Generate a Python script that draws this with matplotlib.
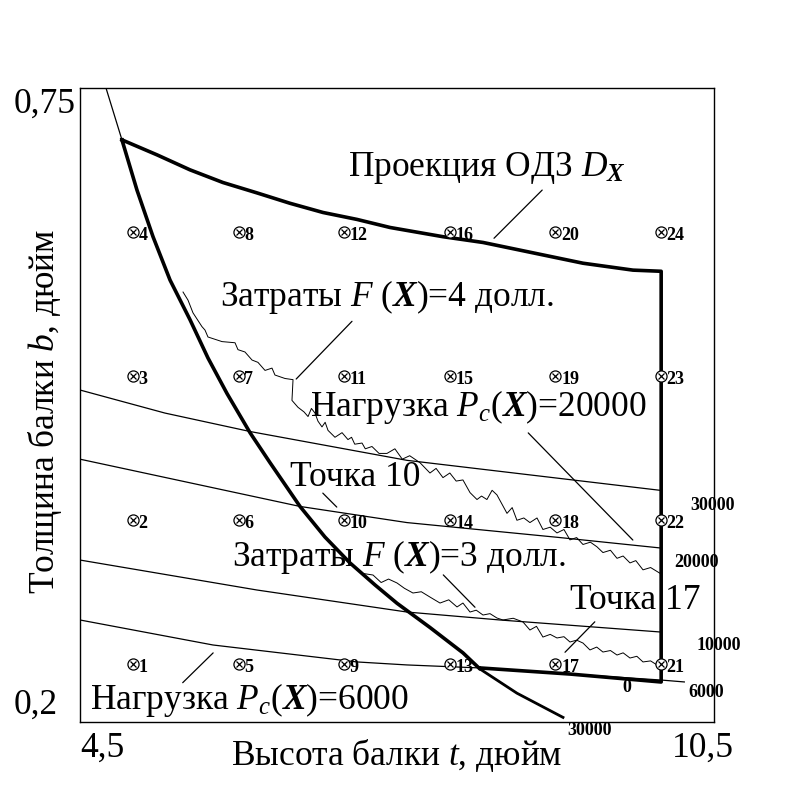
import matplotlib
matplotlib.use("Agg")
import matplotlib.pyplot as plt
import numpy as np

plt.rcParams['font.family'] = ['Liberation Serif', 'DejaVu Serif']
plt.rcParams['mathtext.fontset'] = 'custom'
plt.rcParams['mathtext.rm'] = 'Liberation Serif'
plt.rcParams['mathtext.it'] = 'Liberation Serif:italic'
plt.rcParams['mathtext.bf'] = 'Liberation Serif:bold'
plt.rcParams['mathtext.bfit'] = 'Liberation Serif:bold:italic'

# ---- data ----
# grid of test points (t, b)
grid_t = [5, 6, 7, 8, 9, 10]
grid_b = [0.25, 0.375, 0.5, 0.625]

# constraint curve (30000) forming left boundary
c30_t = [4.746, 4.897, 5.039, 5.191, 5.352, 5.541, 5.711, 5.891, 6.109, 6.298, 6.582, 6.818, 7.055,
         7.292, 7.500, 7.812, 8.124, 8.285, 8.635, 9.071]
c30_b = [0.750, 0.705, 0.6615, 0.621, 0.5834, 0.549, 0.5158, 0.485, 0.451, 0.425, 0.387, 0.3605, 0.338,
         0.3189, 0.303, 0.282, 0.260, 0.246, 0.225, 0.204]
corner_t = 8.285   # where the constraint meets the lower boundary

# load contours P_c(X)
pA_t = [4.5, 5.304, 6.109, 7.594, 9.989]          # 30000
pA_b = [0.488, 0.468, 0.452, 0.427, 0.401]
pB_t = [4.5, 6.582, 7.594, 9.042, 9.989]          # 20000
pB_b = [0.428, 0.387, 0.373, 0.360, 0.351]
pC_t = [4.5, 6.175, 7.594, 8.474, 9.989]          # 10000
pC_b = [0.3405, 0.3145, 0.2954, 0.2885, 0.2781]
pD_t = [4.5, 5.759, 7.121, 7.594, 8.285, 9.137, 10.0, 10.225]   # 6000
pD_b = [0.2885, 0.2668, 0.2521, 0.2495, 0.2469, 0.2416, 0.2364, 0.2347]

# feasible region projection D_X
top_t = [4.897, 5.229, 5.541, 5.853, 6.175, 6.487, 6.800, 7.121, 7.434, 7.935, 8.314, 8.787, 9.260, 9.733, 10.0]
top_b = [0.705, 0.692, 0.679, 0.668, 0.659, 0.650, 0.642, 0.636, 0.629, 0.621, 0.616, 0.607, 0.598, 0.592, 0.591]
bot_t = [10.0, 10.0, 9.137, 8.285]
bot_b = [0.591, 0.2347, 0.2416, 0.2469]

# cost contours F(X) (noisy)
f4_t = [5.475, 5.522, 5.569, 5.654, 5.683, 5.711, 5.844, 5.967, 5.995, 6.061, 6.128, 6.184, 6.251, 6.317,
        6.345, 6.440, 6.516, 6.506, 6.563, 6.620, 6.658, 6.690, 6.724, 6.752, 6.790, 6.820, 6.847, 6.913,
        6.980, 7.036, 7.070, 7.100, 7.169, 7.200, 7.263, 7.330, 7.405, 7.480, 7.550, 7.620, 7.717, 7.812,
        7.870, 7.935, 8.000, 8.060, 8.124, 8.191, 8.257, 8.300, 8.351, 8.400, 8.446, 8.541, 8.590, 8.635,
        8.700, 8.758, 8.825, 8.881, 8.950, 9.014, 9.080, 9.137, 9.200, 9.260, 9.330, 9.392, 9.449, 9.520,
        9.582, 9.640, 9.705, 9.760, 9.828, 9.900, 9.989]
f4_b = [0.573, 0.566, 0.555, 0.543, 0.540, 0.534, 0.530, 0.529, 0.523, 0.521, 0.514, 0.512, 0.505, 0.507,
        0.501, 0.498, 0.497, 0.479, 0.473, 0.469, 0.465, 0.472, 0.468, 0.461, 0.456, 0.460, 0.453, 0.447,
        0.451, 0.445, 0.447, 0.441, 0.442, 0.437, 0.439, 0.433, 0.433, 0.437, 0.428, 0.431, 0.425, 0.416,
        0.420, 0.412, 0.416, 0.409, 0.410, 0.399, 0.393, 0.396, 0.393, 0.401, 0.397, 0.381, 0.386, 0.375,
        0.377, 0.373, 0.377, 0.367, 0.369, 0.364, 0.367, 0.358, 0.360, 0.354, 0.356, 0.352, 0.347, 0.349,
        0.342, 0.344, 0.338, 0.340, 0.332, 0.334, 0.329]
f3_t = [7.169, 7.273, 7.350, 7.420, 7.500, 7.570, 7.651, 7.730, 7.812, 7.907, 7.990, 8.068, 8.124, 8.191,
        8.250, 8.314, 8.380, 8.446, 8.503, 8.600, 8.692, 8.758, 8.820, 8.881, 8.950, 9.014, 9.080, 9.137,
        9.200, 9.260, 9.326, 9.390, 9.449, 9.520, 9.582, 9.640, 9.705, 9.770, 9.828, 9.900, 9.960]
f3_b = [0.329, 0.3275, 0.321, 0.324, 0.3206, 0.316, 0.3119, 0.313, 0.3084, 0.3032, 0.306, 0.2998, 0.3032, 0.2954,
        0.297, 0.2928, 0.294, 0.2902, 0.2885, 0.290, 0.2868, 0.2798, 0.283, 0.2737, 0.276, 0.2729, 0.274, 0.2694,
        0.271, 0.2685, 0.2625, 0.265, 0.2607, 0.262, 0.2581, 0.260, 0.2555, 0.257, 0.2521, 0.253, 0.2495]

contour_labels = ["30000", "20000", "10000", "6000"]

# ---- figure ----
fig = plt.figure(figsize=(8, 8), dpi=100)
ax = fig.add_axes([0.1, 0.0975, 0.7925, 0.7925])
ax.set_xlim(4.5, 10.5)
ax.set_ylim(0.2, 0.75)
ax.set_xticks([])
ax.set_yticks([])
for s in ax.spines.values():
    s.set_linewidth(1.0)

thin = dict(color='black', lw=0.9, solid_capstyle='butt')
ax.plot(c30_t, c30_b, **thin)
for tt, bb in [(pA_t, pA_b), (pB_t, pB_b), (pC_t, pC_b), (pD_t, pD_b)]:
    ax.plot(tt, bb, **thin)

# feasible region boundary (thick)
ci = c30_t.index(corner_t)
reg_t = top_t + bot_t[1:] + c30_t[1:ci + 1][::-1]
reg_b = top_b + bot_b[1:] + c30_b[1:ci + 1][::-1]
ax.plot(reg_t, reg_b, color='black', lw=2.6, solid_joinstyle='round')
ax.plot(c30_t[ci:], c30_b[ci:], color='black', lw=2.0)

# cost contours
ax.plot(f4_t, f4_b, color='black', lw=0.7)
ax.plot(f3_t, f3_b, color='black', lw=0.7)

# grid points
k = 1
for t in grid_t:
    for b in grid_b:
        ax.plot([t], [b], marker='o', ms=8, mfc='white', mec='black', mew=0.9, ls='none', zorder=5)
        ax.plot([t], [b], marker='x', ms=5, mec='black', mew=0.9, ls='none', zorder=6)
        ax.annotate(str(k), (t, b), xytext=(4, -2.5), textcoords='offset points',
                    fontsize=13, fontweight='bold', ha='left', va='center', zorder=6)
        k += 1

# annotations
big = 25.5
def note(txt, x, y, x0, y0, x1, y1):
    ax.text(x, y, txt, transform=ax.transAxes, fontsize=big, ha='left', va='center')
    ax.annotate('', xy=(x1, y1), xytext=(x0, y0), xycoords='axes fraction',
                textcoords='axes fraction', arrowprops=dict(arrowstyle='-', lw=0.9, color='black',
                                                            shrinkA=0, shrinkB=0))

note('Проекция ОДЗ $D_{\\mathbfit{X}}$', 0.423, 0.874, 0.729, 0.839, 0.653, 0.763)
note('Затраты $F$ ($\\mathbfit{X}$)=4 долл.', 0.221, 0.670, 0.429, 0.632, 0.341, 0.541)
note('Нагрузка $P_c$($\\mathbfit{X}$)=20000', 0.363, 0.497, 0.707, 0.456, 0.872, 0.287)
note('Точка 10', 0.331, 0.385, 0.383, 0.361, 0.405, 0.339)
note('Затраты $F$ ($\\mathbfit{X}$)=3 долл.', 0.240, 0.260, 0.573, 0.232, 0.623, 0.181)
note('Точка 17', 0.773, 0.192, 0.812, 0.158, 0.765, 0.110)
note('Нагрузка $P_c$($\\mathbfit{X}$)=6000', 0.016, 0.035, 0.210, 0.109, 0.162, 0.062)

small = dict(transform=ax.transAxes, fontsize=13, fontweight='bold', ha='left', va='center', clip_on=False)
ax.text(0.962, 0.342, contour_labels[0], **small)
ax.text(0.938, 0.252, contour_labels[1], **small)
ax.text(0.973, 0.121, contour_labels[2], **small)
ax.text(0.959, 0.046, contour_labels[3], **small)
ax.text(0.855, 0.054, '0', **small)
ax.text(0.768, -0.014, contour_labels[0], **small)

# tick labels
tk = dict(transform=ax.transAxes, fontsize=big, clip_on=False)
ax.text(-0.105, 1.0, '0,75', ha='left', va='top', **tk)
ax.text(-0.105, 0.0, '0,2', ha='left', va='bottom', **tk)
ax.text(0.0, -0.015, '4,5', ha='left', va='top', **tk)
ax.text(0.934, -0.015, '10,5', ha='left', va='top', **tk)

ax.text(0.5, -0.053, 'Высота балки $t$, дюйм', transform=ax.transAxes, fontsize=big,
        ha='center', va='center')
ax.text(-0.055, 0.49, 'Толщина балки $b$, дюйм', transform=ax.transAxes, fontsize=big,
        ha='center', va='center', rotation=90)

fig.savefig('out.png', dpi=100)
